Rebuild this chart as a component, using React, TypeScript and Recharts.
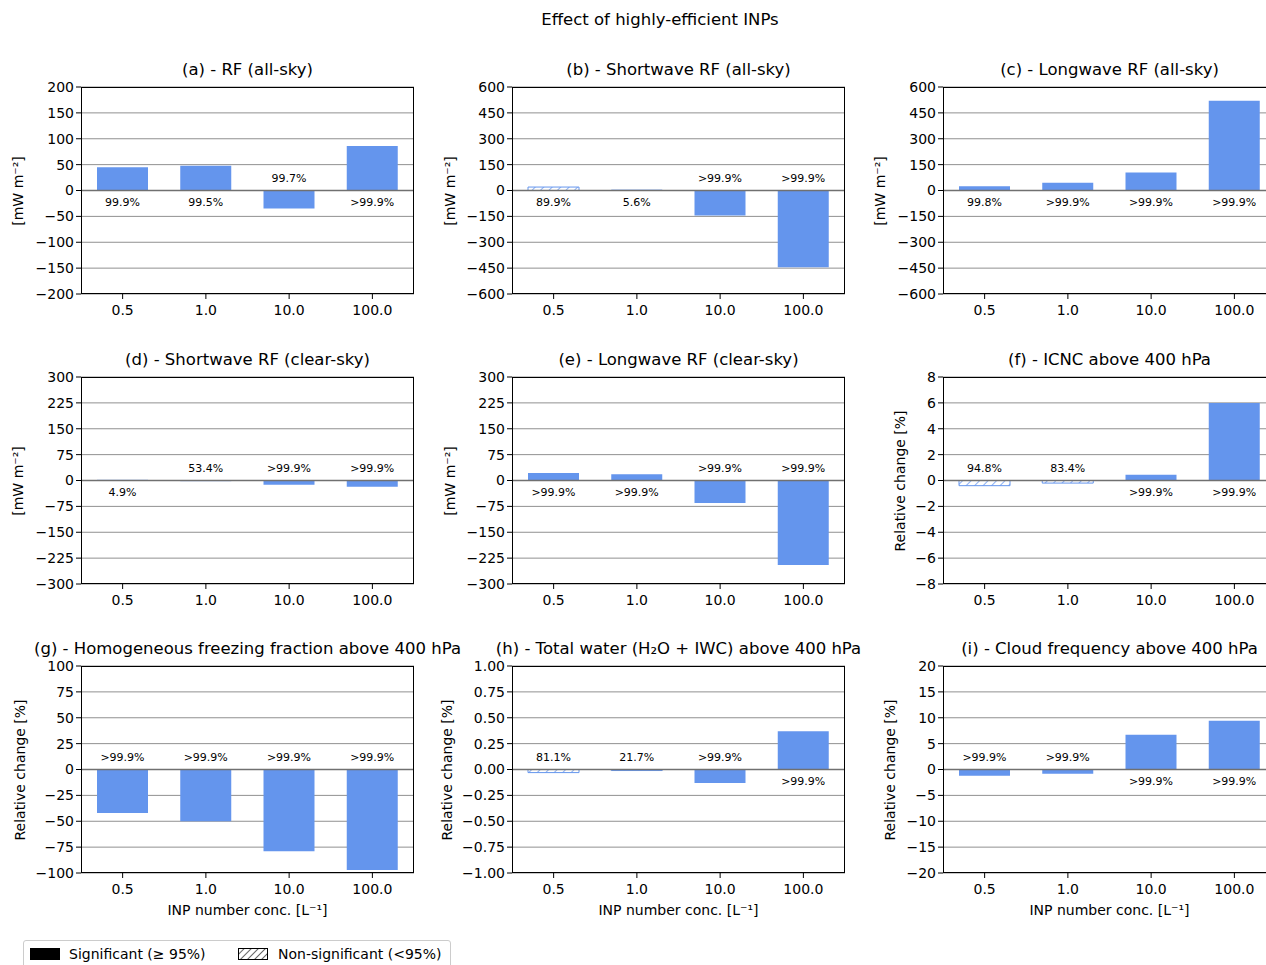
import React from 'react';
import { BarChart, Bar, XAxis, YAxis, CartesianGrid, ReferenceLine, Cell, LabelList } from 'recharts';

const categories = ['0.5', '1.0', '10.0', '100.0'];

const titles = [
  '(a) - RF (all-sky)',
  '(b) - Shortwave RF (all-sky)',
  '(c) - Longwave RF (all-sky)',
  '(d) - Shortwave RF (clear-sky)',
  '(e) - Longwave RF (clear-sky)',
  '(f) - ICNC above 400 hPa',
  '(g) - Homogeneous freezing fraction above 400 hPa',
  '(h) - Total water (H\u2082O + IWC) above 400 hPa',
  '(i) - Cloud frequency above 400 hPa',
];

const values = [
  [45, 48, -35, 86],
  [20, 2, -145, -445],
  [25, 45, 105, 520],
  [0.5, -0.5, -12, -18],
  [22, 18, -65, -245],
  [-0.4, -0.2, 0.45, 6.0],
  [-42, -50, -79, -97],
  [-0.03, -0.01, -0.13, 0.37],
  [-1.2, -0.8, 6.7, 9.4],
];

const confidence = [
  ['99.9%', '99.5%', '99.7%', '>99.9%'],
  ['89.9%', '5.6%', '>99.9%', '>99.9%'],
  ['99.8%', '>99.9%', '>99.9%', '>99.9%'],
  ['4.9%', '53.4%', '>99.9%', '>99.9%'],
  ['>99.9%', '>99.9%', '>99.9%', '>99.9%'],
  ['94.8%', '83.4%', '>99.9%', '>99.9%'],
  ['>99.9%', '>99.9%', '>99.9%', '>99.9%'],
  ['81.1%', '21.7%', '>99.9%', '>99.9%'],
  ['>99.9%', '>99.9%', '>99.9%', '>99.9%'],
];

const significant = [
  [true, true, true, true],
  [false, false, true, true],
  [true, true, true, true],
  [false, false, true, true],
  [true, true, true, true],
  [false, false, true, true],
  [true, true, true, true],
  [false, false, true, true],
  [true, true, true, true],
];

const ticks = [
  [-200, -150, -100, -50, 0, 50, 100, 150, 200],
  [-600, -450, -300, -150, 0, 150, 300, 450, 600],
  [-600, -450, -300, -150, 0, 150, 300, 450, 600],
  [-300, -225, -150, -75, 0, 75, 150, 225, 300],
  [-300, -225, -150, -75, 0, 75, 150, 225, 300],
  [-8, -6, -4, -2, 0, 2, 4, 6, 8],
  [-100, -75, -50, -25, 0, 25, 50, 75, 100],
  [-1, -0.75, -0.5, -0.25, 0, 0.25, 0.5, 0.75, 1],
  [-20, -15, -10, -5, 0, 5, 10, 15, 20],
];

const yLabels = ['[mW m\u207b\u00b2]', '[mW m\u207b\u00b2]', '[mW m\u207b\u00b2]', '[mW m\u207b\u00b2]', '[mW m\u207b\u00b2]',
  'Relative change [%]', 'Relative change [%]', 'Relative change [%]', 'Relative change [%]'];

const BLUE = '#6495ED';
const FONT = 'DejaVu Sans, sans-serif';
const PLOT_LEFT = [81, 512, 943];
const PLOT_TOP = [87, 377, 666];
const Y_LABEL_OFFSET = [63, 62, 63, 63, 62, 43, 61, 65, 53];
const PW = 333;
const PH = 207;
const ML = 75;
const MT = 40;

const fmt = (i: number) => (v: number) => {
  const s = i === 7 ? Math.abs(v).toFixed(2) : String(Math.abs(v));
  return v < 0 ? '\u2212' + s : s;
};

const Panel = ({ i }: { i: number }) => {
  const col = i % 3;
  const row = Math.floor(i / 3);
  const data = categories.map((c, k) => ({ cat: c, v: values[i][k] }));
  const t = ticks[i];
  const left = PLOT_LEFT[col] - ML;
  const top = PLOT_TOP[row] - MT;
  const renderLabel = (p: any) => {
    const { x, y, width, height, index } = p;
    const v = values[i][index];
    const y2 = y + height;
    const zero = v >= 0 ? Math.max(y, y2) : Math.min(y, y2);
    const ty = v >= 0 ? zero + 15 : zero - 9;
    return (
      <text x={x + width / 2} y={ty} textAnchor="middle" fontSize={11} fontFamily={FONT} fill="#000">
        {confidence[i][index]}
      </text>
    );
  };
  return (
    <div style={{ position: 'absolute', left, top, width: PW + ML + 5, height: 292 }}>
      <BarChart width={PW + ML + 5} height={292} data={data}
        margin={{ top: MT, right: 5, left: 30, bottom: 15 }}>
        <defs>
          <pattern id={`hatch${i}`} patternUnits="userSpaceOnUse" width="6" height="6" patternTransform="rotate(45)">
            <rect width="6" height="6" fill="#fff" />
            <line x1="0" y1="0" x2="0" y2="6" stroke={BLUE} strokeWidth="1.5" />
          </pattern>
        </defs>
        <CartesianGrid horizontal vertical={false} stroke="#909090" strokeWidth={1} />
        <XAxis dataKey="cat" height={30} axisLine={false} tickLine={{ stroke: '#000' }} tickSize={5}
          tick={{ fill: '#000', fontSize: 14, fontFamily: FONT, dy: 4 }} interval={0} />
        <YAxis domain={[t[0], t[t.length - 1]]} ticks={t} width={45} axisLine={false} tickFormatter={fmt(i)}
          tickLine={{ stroke: '#000' }} tickSize={5} interval={0}
          tick={{ fill: '#000', fontSize: 14, fontFamily: FONT }} allowDataOverflow />
        <Bar dataKey="v" barSize={51} isAnimationActive={false}>
          {data.map((d, k) => (
            <Cell key={`c-${k}`} fill={significant[i][k] ? BLUE : `url(#hatch${i})`}
              stroke={significant[i][k] ? 'none' : BLUE} strokeWidth={1} />
          ))}
          <LabelList dataKey="v" content={renderLabel} />
        </Bar>
        <ReferenceLine y={0} stroke="#707070" strokeWidth={1.5} />
      </BarChart>
      <div style={{ position: 'absolute', left: ML - 80, top: 13, width: PW + 160, textAlign: 'center',
        fontSize: 16.5, fontFamily: FONT, whiteSpace: 'nowrap' }}>{titles[i]}</div>
      <div style={{ position: 'absolute', left: ML, top: MT, width: PW, height: PH, border: '1px solid #000',
        boxSizing: 'border-box', pointerEvents: 'none' }} />
      <div style={{ position: 'absolute', left: ML - Y_LABEL_OFFSET[i], top: MT + PH / 2, fontSize: 14,
        fontFamily: FONT, whiteSpace: 'nowrap', transform: 'translate(-50%, -50%) rotate(-90deg)' }}>{yLabels[i]}</div>
      {row === 2 && (
        <div style={{ position: 'absolute', left: ML, top: MT + PH + 29, width: PW, textAlign: 'center',
          fontSize: 14, fontFamily: FONT }}>INP number conc. [L{'\u207b\u00b9'}]</div>
      )}
    </div>
  );
};

export default function App() {
  return (
    <div style={{ position: 'absolute', left: 0, top: 0, width: 1266, height: 965, overflow: 'hidden',
      background: '#fff', fontFamily: FONT }}>
      <div style={{ position: 'absolute', left: 0, top: 10, width: 1320, textAlign: 'center', fontSize: 16.5 }}>
        Effect of highly-efficient INPs
      </div>
      {titles.map((_, i) => <Panel key={i} i={i} />)}
      <div style={{ position: 'absolute', left: 23, top: 940, width: 426, height: 30, border: '1px solid #ccc',
        borderRadius: 3, fontSize: 14, background: '#fff' }}>
        <svg width={30} height={14} style={{ position: 'absolute', left: 6, top: 6 }}>
          <rect width={30} height={12} y={1} fill="#000" />
        </svg>
        <span style={{ position: 'absolute', left: 45, top: 5 }}>Significant ({'\u2265'} 95%)</span>
        <svg width={30} height={14} style={{ position: 'absolute', left: 214, top: 6 }}>
          <defs>
            <pattern id="hatchLeg" patternUnits="userSpaceOnUse" width="5" height="5" patternTransform="rotate(45)">
              <line x1="0" y1="0" x2="0" y2="5" stroke="#000" strokeWidth="1.2" />
            </pattern>
          </defs>
          <rect x={0.5} y={1.5} width={29} height={11} fill="url(#hatchLeg)" stroke="#000" />
        </svg>
        <span style={{ position: 'absolute', left: 254, top: 5 }}>Non-significant (&lt;95%)</span>
      </div>
    </div>
  );
}
